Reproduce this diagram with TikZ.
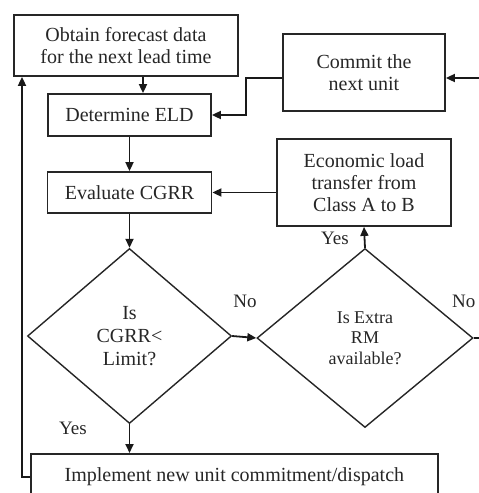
\documentclass[tikz,border=0pt]{standalone}
\usepackage{fontspec}
\setmainfont{Liberation Serif}
\usetikzlibrary{shapes.geometric,arrows.meta,calc}
\begin{document}
\begin{tikzpicture}[x=1pt,y=1pt,
  every node/.style={text=black!85},
  box/.style={draw=black!85,line width=1.8pt,inner sep=0pt,align=center,font=\fontsize{20}{22}\selectfont},
  dia/.style={draw=black!85,line width=1.4pt,diamond,inner sep=0pt,align=center},
  lab/.style={font=\fontsize{19}{22}\selectfont},
  arr/.style={draw=black!90,line width=1.8pt,-{Triangle[length=9pt,width=8pt]}},
  ln/.style={draw=black!90,line width=1.8pt}]
\useasboundingbox (0,0) rectangle (479,-493);
\clip (0,0) rectangle (479,-493);
\node[box,minimum width=224,minimum height=61] (obtain) at (126,-45.5) {Obtain forecast data\\for the next lead time};
\node[box,minimum width=163,minimum height=42] (eld) at (129.5,-115) {Determine ELD};
\node[box,minimum width=164,minimum height=41] (eval) at (129.5,-192.5) {Evaluate CGRR};
\node[box,minimum width=162,minimum height=77] (commit) at (364,-72.5) {Commit the\\next unit};
\node[box,minimum width=174,minimum height=87] (econ) at (364,-182.5) {Economic load\\transfer from\\Class A to B};
\node[dia,minimum width=204,minimum height=175,font=\fontsize{20}{23}\selectfont] (d1) at (129.5,-336) {Is\\CGRR<\\Limit?};
\node[dia,minimum width=216,minimum height=179,font=\fontsize{18}{20.5}\selectfont] (d2) at (365,-338) {Is Extra\\RM\\available?};
\node[box,minimum width=407,minimum height=46,anchor=north west] (impl) at (30,-453) {Implement new unit commitment/dispatch};
\coordinate (cx) at (143,0);
\coordinate (fb) at (22,0);
\coordinate (ry) at (0,-78);
\coordinate (redge) at (490,-78);
\coordinate (redge2) at (490,-338);
\draw[arr] (obtain.south -| cx) -- (eld.north -| cx);
\draw[arr] (eld.south) -- (eval.north);
\draw[arr] (eval.south) -- (d1.north);
\draw[arr] (commit.west |- ry) -- ++(-36,0) |- (eld.east);
\draw[arr] (econ.west |- eval.east) -- (eval.east);
\draw[arr] (d1.east) -- (d2.west);
\draw[arr] (d2.north) -- (econ.south);
\draw[arr] (d1.south) -- (d1.south |- impl.north);
\draw[arr] (impl.west) -| (obtain.south -| fb);
\draw[arr] (redge) -- (redge -| commit.east);
\draw[ln] (d2.east) -- (redge2);
\node[lab] (no1) at (245,-301) {No};
\node[lab,anchor=east] (no2) at (479,-301) {No};
\node[lab] (yes1) at (335,-238) {Yes};
\node[lab] (yes2) at (73,-428) {Yes};
\end{tikzpicture}
\end{document}
